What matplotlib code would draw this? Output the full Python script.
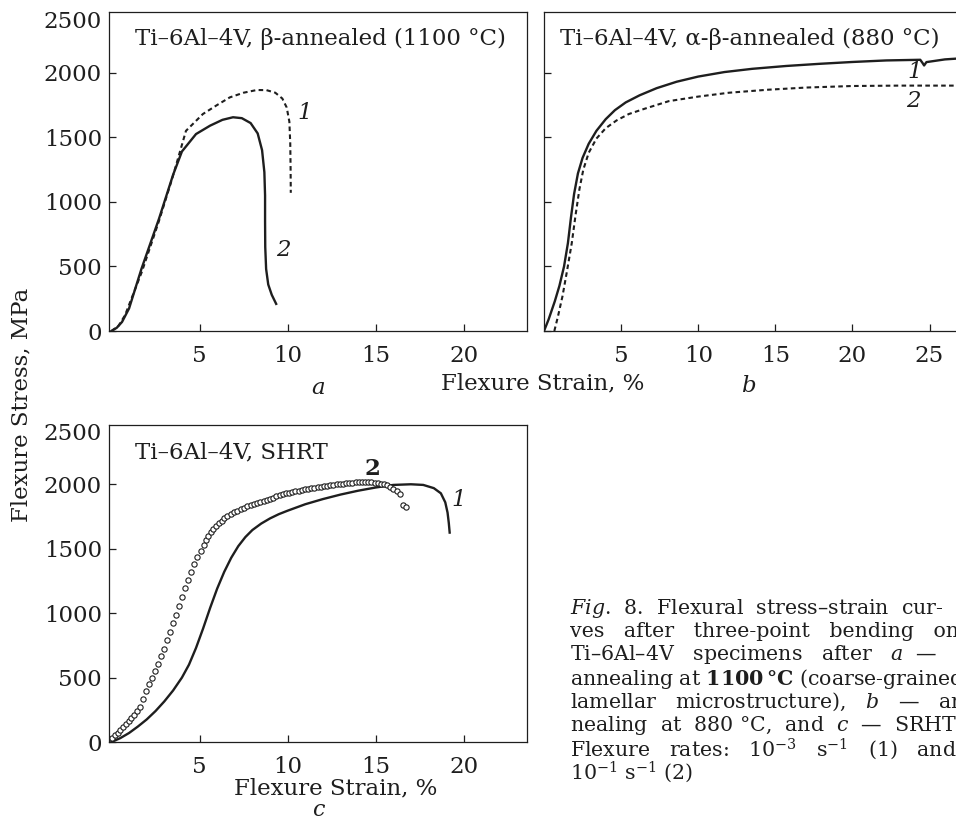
import matplotlib
matplotlib.use("Agg")
import matplotlib.pyplot as plt

plt.rcParams['font.family'] = ['DejaVu Serif']
plt.rcParams['mathtext.fontset'] = 'dejavuserif'

INK = '#1e1e1e'
FS = 16.5

# panel a: beta-annealed (1100 C)
a_solid_x = [0, 0.3, 0.6, 1.0, 1.7, 2.7, 3.5, 4.0, 4.8, 5.6, 6.3, 6.9, 7.4, 7.9, 8.3, 8.55,
             8.68, 8.72, 8.72, 8.73, 8.78, 8.9, 9.1, 9.35]
a_solid_y = [0, 25, 70, 175, 480, 870, 1210, 1390, 1525, 1590, 1635, 1655, 1648, 1610, 1530, 1400,
             1230, 1050, 850, 650, 480, 360, 280, 210]
a_dash_x = [0, 0.4, 0.77, 1.73, 2.69, 3.46, 4.23, 5.19, 6.0, 6.72, 7.5, 8.25, 8.8, 9.3, 9.7, 9.95,
            10.1, 10.15, 10.17, 10.18]
a_dash_y = [0, 40, 122, 460, 849, 1186, 1550, 1680, 1750, 1809, 1845, 1866, 1865, 1845, 1800, 1730,
            1620, 1450, 1250, 1070]

# panel b: alpha-beta-annealed (880 C)
b_solid_x = [0, 0.3, 0.7, 1.0, 1.3, 1.55, 1.75, 1.95, 2.2, 2.5, 2.9, 3.4, 4.0, 4.6, 5.3, 6.2,
             7.3, 8.6, 10.0, 11.7, 13.5, 15.7, 17.9, 20.0, 22.2, 24.4, 24.55, 24.65, 24.8, 26.0,
             27.5]
b_solid_y = [0, 90, 230, 350, 500, 680, 880, 1060, 1220, 1340, 1450, 1550, 1640, 1710, 1770, 1825,
             1880, 1930, 1970, 2005, 2030, 2052, 2069, 2083, 2095, 2100, 2075, 2056, 2082, 2103,
             2115]
b_dash_x = [0.67, 0.9, 1.2, 1.5, 1.8, 2.05, 2.3, 2.55, 2.9, 3.4, 4.0, 4.7, 5.5, 6.5, 8.1, 10.0,
            12.0, 14.5, 17.0, 20.0, 23.0, 27.5]
b_dash_y = [0, 110, 270, 470, 680, 900, 1100, 1250, 1380, 1490, 1570, 1630, 1680, 1720, 1780, 1815,
            1845, 1868, 1885, 1897, 1900, 1900]

# panel c: SHRT
c_solid_x = [0, 0.5, 1.0, 1.5, 2.0, 2.5, 3.0, 3.5, 4.0, 4.4, 4.8, 5.2, 5.6, 6.0, 6.4, 6.8, 7.2,
             7.6, 8.0, 8.5, 9.0, 9.5, 10.0, 11.0, 12.0, 13.0, 14.0, 15.0, 16.0, 17.0, 17.7, 18.3,
             18.7, 18.95, 19.08, 19.15, 19.2]
c_solid_y = [0, 30, 70, 120, 175, 240, 315, 400, 500, 600, 730, 880, 1040, 1190, 1320, 1430, 1520,
             1590, 1645, 1695, 1735, 1768, 1795, 1845, 1885, 1920, 1950, 1975, 1995, 2000, 1995,
             1970, 1930, 1860, 1780, 1700, 1625]
c_dots_x = [0.02, 0.2, 0.36, 0.51, 0.68, 0.83, 0.98, 1.13, 1.3, 1.45, 1.61, 1.78, 1.96, 2.13, 2.3,
            2.47, 2.66, 2.81, 3.0, 3.17, 3.34, 3.51, 3.69, 3.85, 4.02, 4.18, 4.36, 4.53, 4.7, 4.88,
            5.07, 5.24, 5.37, 5.5, 5.64, 5.78, 5.94, 6.09, 6.26, 6.41, 6.58, 6.77, 6.96, 7.15, 7.34,
            7.53, 7.71, 7.91, 8.1, 8.28, 8.46, 8.64, 8.82, 9.0, 9.18, 9.36, 9.54, 9.72, 9.9, 10.08,
            10.26, 10.44, 10.62, 10.8, 10.98, 11.16, 11.34, 11.52, 11.7, 11.88, 12.06, 12.24, 12.42,
            12.6, 12.78, 12.96, 13.14, 13.32, 13.5, 13.68, 13.86, 14.04, 14.22, 14.4, 14.58, 14.76,
            14.94, 15.12, 15.3, 15.48, 15.66, 15.84, 16.0, 16.19, 16.38, 16.53, 16.7]
c_dots_y = [34, 52, 70, 91, 116, 137, 160, 186, 212, 240, 271, 330, 398, 447, 499,
            550, 608, 664, 724, 794, 856, 922, 987, 1054, 1124, 1194, 1259, 1323, 1383, 1434,
            1483, 1530, 1569, 1600, 1628, 1654, 1677, 1697, 1718, 1736, 1755, 1770, 1783, 1796, 1809,
            1819, 1829, 1840, 1848, 1856, 1864, 1872, 1880, 1888, 1897, 1906, 1915, 1922, 1929, 1935,
            1941, 1946, 1951, 1956, 1960, 1964, 1968, 1972, 1976, 1980, 1984, 1988, 1992,
            1996, 1999, 2002, 2005, 2008, 2010, 2012, 2014, 2015, 2016, 2016, 2015, 2014,
            2012, 2009, 2005, 2000, 1992, 1980, 1965, 1945, 1925, 1836, 1822]

W, H = 956, 822
fig = plt.figure(figsize=(W / 100, H / 100), dpi=100)


def px_axes(l, t, r, b):
    return fig.add_axes([l / W, 1 - b / H, (r - l) / W, (b - t) / H])


def style(ax, xticks, ylabels=True):
    for s in ax.spines.values():
        s.set_linewidth(0.9)
        s.set_color(INK)
    ax.set_xticks(xticks)
    ax.set_yticks([0, 500, 1000, 1500, 2000])
    ax.tick_params(direction='in', length=5, width=0.9, color=INK, labelsize=FS,
                   labelcolor=INK)
    ax.tick_params(axis='x', pad=10)
    ax.tick_params(axis='y', pad=5)
    if ylabels:
        ax.text(-0.018, 2390, '2500', transform=ax.get_yaxis_transform(), ha='right',
                va='center', fontsize=FS, color=INK)
    else:
        ax.set_yticklabels([])


ax_a = px_axes(109, 12, 527, 331)
ax_a.set_xlim(-0.14, 23.59)
ax_a.set_ylim(0, 2470)
ax_a.plot(a_dash_x, a_dash_y, color=INK, lw=1.5, ls=(0, (2.2, 1.6)))
ax_a.plot(a_solid_x, a_solid_y, color=INK, lw=1.7)
style(ax_a, [5, 10, 15, 20])
ax_a.text(0.062, 0.915, 'Ti–6Al–4V, β-annealed (1100 °C)', transform=ax_a.transAxes,
          fontsize=FS, va='center', color=INK)
ax_a.text(10.95, 1687, '1', fontsize=FS, style='italic', ha='center', va='center', color=INK)
ax_a.text(9.76, 628, '2', fontsize=FS, style='italic', ha='center', va='center', color=INK)

ax_b = px_axes(544, 12, 975, 331)
ax_b.set_xlim(0, 27.95)
ax_b.set_ylim(0, 2470)
ax_b.plot(b_dash_x, b_dash_y, color=INK, lw=1.5, ls=(0, (2.2, 1.6)))
ax_b.plot(b_solid_x, b_solid_y, color=INK, lw=1.7)
style(ax_b, [5, 10, 15, 20, 25], ylabels=False)
ax_b.text(0.037, 0.915, 'Ti–6Al–4V, α-β-annealed (880 °C)', transform=ax_b.transAxes,
          fontsize=FS, va='center', color=INK)
ax_b.text(24.05, 2004, '1', fontsize=FS, style='italic', ha='center', va='center', color=INK)
ax_b.text(23.94, 1783, '2', fontsize=FS, style='italic', ha='center', va='center', color=INK)

ax_c = px_axes(109, 425, 527, 742)
ax_c.set_xlim(-0.14, 23.59)
ax_c.set_ylim(0, 2460)
ax_c.plot(c_solid_x, c_solid_y, color=INK, lw=1.7)
ax_c.plot(c_dots_x, c_dots_y, ls='none', marker='o', ms=3.8, mfc='white', mec=INK, mew=0.8)
style(ax_c, [5, 10, 15, 20])
ax_c.text(0.062, 0.915, 'Ti–6Al–4V, SHRT', transform=ax_c.transAxes,
          fontsize=FS, va='center', color=INK)
ax_c.text(14.8, 2122, '2', fontsize=FS, weight='bold', ha='center', va='center', color=INK)
ax_c.text(19.7, 1880, '1', fontsize=FS, style='italic', ha='center', va='center', color=INK)

# axis titles and panel letters
fig.text(21 / W, 1 - 405 / H, 'Flexure Stress, MPa', rotation=90, ha='center', va='center',
         fontsize=FS, color=INK)
fig.text(543 / W, 1 - 383 / H, 'Flexure Strain, %', ha='center', va='center', fontsize=FS,
         color=INK)
fig.text(318 / W, 1 - 388 / H, 'a', ha='center', va='center', fontsize=FS, style='italic',
         color=INK)
fig.text(748 / W, 1 - 386 / H, 'b', ha='center', va='center', fontsize=FS, style='italic',
         color=INK)
fig.text(336 / W, 1 - 788 / H, 'Flexure Strain, %', ha='center', va='center', fontsize=FS,
         color=INK)
fig.text(318 / W, 1 - 810 / H, 'c', ha='center', va='center', fontsize=16, style='italic',
         color=INK)

# caption: justified lines, cut by the right edge as in the source page
caption = [
    r'$\it{Fig}$.  $\it{8}$.  Flexural  stress–strain  cur-',
    r'ves   after   three-point   bending   on',
    r'Ti–6Al–4V   specimens   after   $\it{a}$  —',
    r'annealing at $\mathbf{1100\,°C}$ (coarse-grained',
    r'lamellar   microstructure),   $\it{b}$   —   an-',
    r'nealing  at  880 °C,  and  $\it{c}$  —  SRHT.',
    r'Flexure   rates:   10$^{-3}$   s$^{-1}$   ($\it{1}$)   and',
    r'10$^{-1}$ s$^{-1}$ ($\mathbf{\it{2}}$)',
]
for i, line in enumerate(caption):
    fig.text(570 / W, 1 - (608 + i * 23.5) / H, line, ha='left', va='center', fontsize=14.8,
             color=INK)

fig.savefig('out.png', dpi=100)
